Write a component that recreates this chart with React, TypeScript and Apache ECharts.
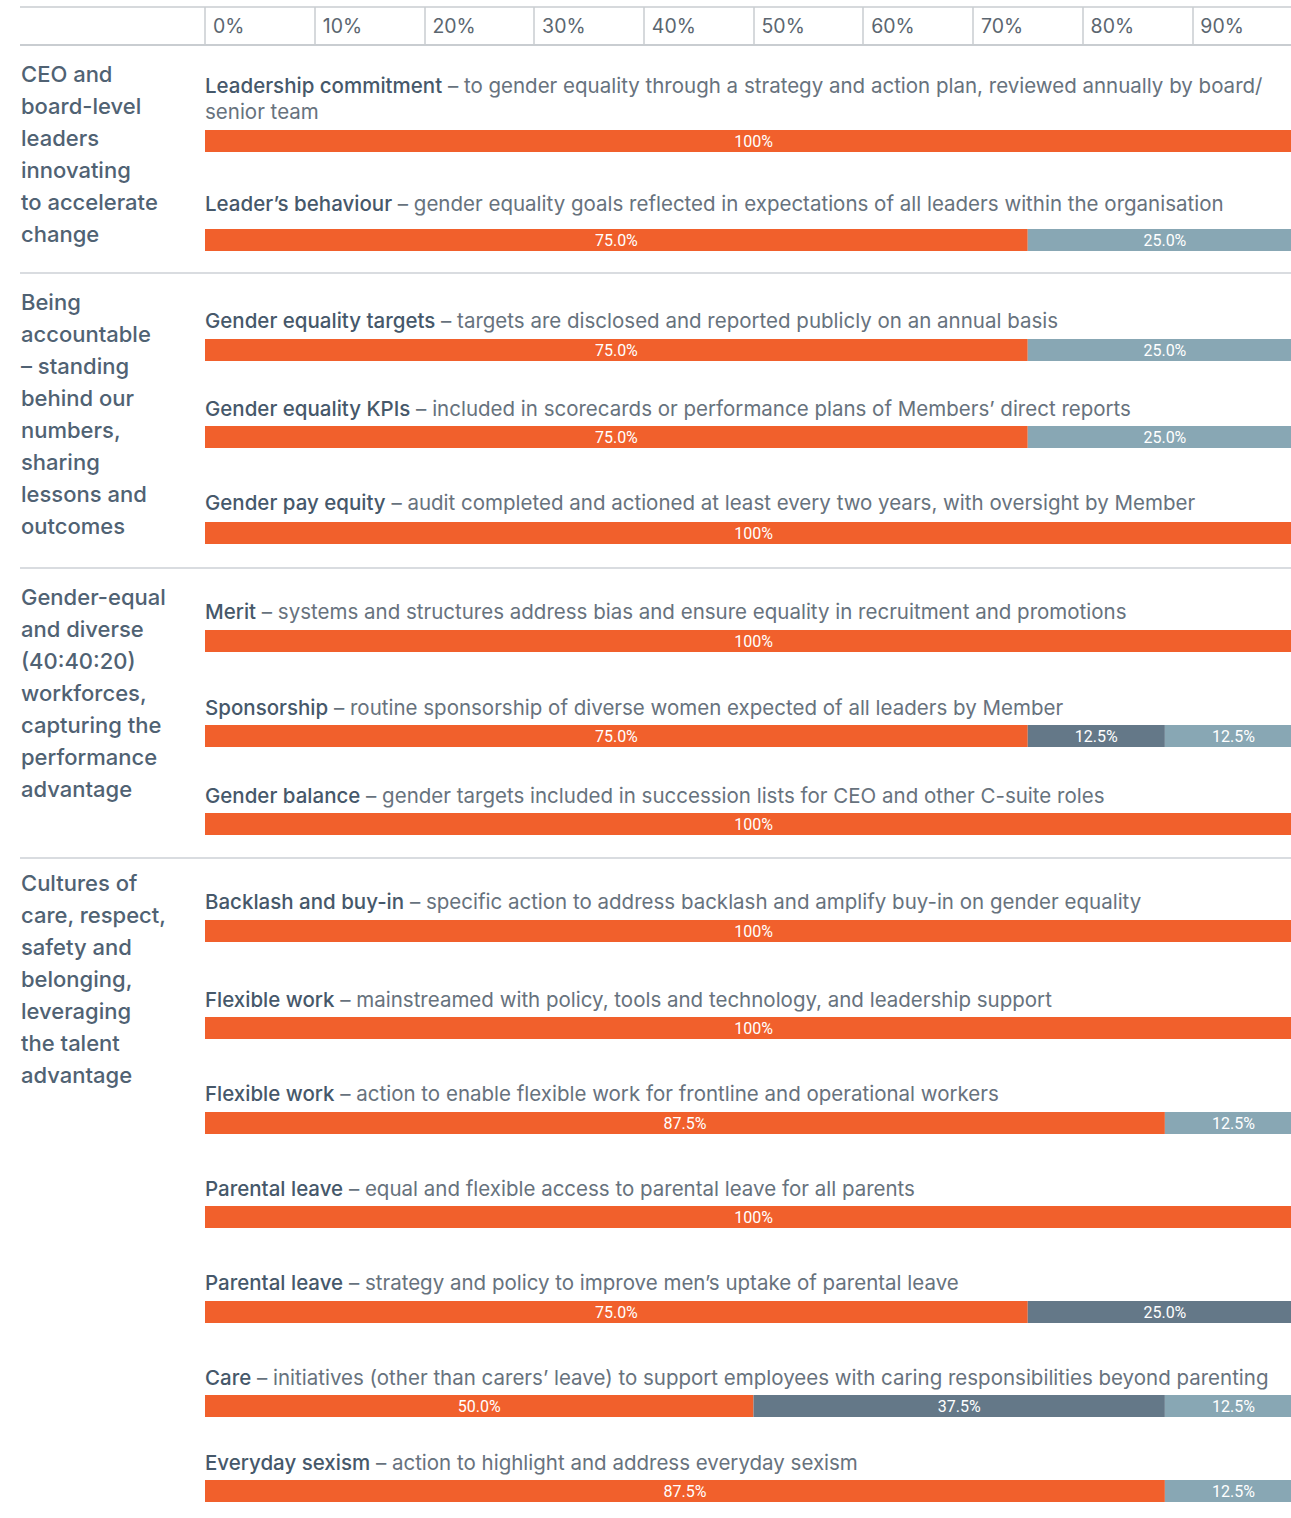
import React, { useEffect, useRef } from 'react';
import * as echarts from 'echarts';

// ---------- data ----------
const tickValues = [0, 10, 20, 30, 40, 50, 60, 70, 80, 90];

const groupLabels: string[][] = [
  ['CEO and', 'board-level', 'leaders', 'innovating', 'to accelerate', 'change'],
  ['Being', 'accountable', '– standing', 'behind our', 'numbers,', 'sharing', 'lessons and', 'outcomes'],
  ['Gender-equal', 'and diverse', '(40:40:20)', 'workforces,', 'capturing the', 'performance', 'advantage'],
  ['Cultures of', 'care, respect,', 'safety and', 'belonging,', 'leveraging', 'the talent', 'advantage'],
];

const rowTitles = [
  'Leadership commitment',
  'Leader’s behaviour',
  'Gender equality targets',
  'Gender equality KPIs',
  'Gender pay equity',
  'Merit',
  'Sponsorship',
  'Gender balance',
  'Backlash and buy-in',
  'Flexible work',
  'Flexible work',
  'Parental leave',
  'Parental leave',
  'Care',
  'Everyday sexism',
];

const rowDescriptions = [
  ' – to gender equality through a strategy and action plan, reviewed annually by board/\nsenior team',
  ' – gender equality goals reflected in expectations of all leaders within the organisation',
  ' – targets are disclosed and reported publicly on an annual basis',
  ' – included in scorecards or performance plans of Members’ direct reports',
  ' – audit completed and actioned at least every two years, with oversight by Member',
  ' – systems and structures address bias and ensure equality in recruitment and promotions',
  ' – routine sponsorship of diverse women expected of all leaders by Member',
  ' – gender targets included in succession lists for CEO and other C-suite roles',
  ' – specific action to address backlash and amplify buy-in on gender equality',
  ' – mainstreamed with policy, tools and technology, and leadership support',
  ' – action to enable flexible work for frontline and operational workers',
  ' – equal and flexible access to parental leave for all parents',
  ' – strategy and policy to improve men’s uptake of parental leave',
  ' – initiatives (other than carers’ leave) to support employees with caring responsibilities beyond parenting',
  ' – action to highlight and address everyday sexism',
];

const implementedPct = [100, 75, 75, 75, 100, 100, 75, 100, 100, 100, 87.5, 100, 75, 50, 87.5];
const inProgressPct = [0, 0, 0, 0, 0, 0, 12.5, 0, 0, 0, 0, 0, 25, 37.5, 0];
const notYetPct = [0, 25, 25, 25, 0, 0, 12.5, 0, 0, 0, 12.5, 0, 0, 12.5, 12.5];

// ---------- layout ----------
const W = 1291;
const CHART_W = 1302; // the 100% end lies just past the page edge
const H = 1518;
const PLOT_LEFT = 205;
const BAR_H = 22;
const barTops = [130, 229, 339, 426, 522, 630, 725, 813, 920, 1017, 1112, 1206, 1301, 1395, 1480];
const textYs = [98, 203, 320, 408, 502, 611, 707, 795, 901, 999, 1093, 1188, 1282, 1377, 1462];
const groupFirstLine = [74, 302, 597, 883];
const separatorYs = [273, 568, 858];

const ORANGE = '#F1602C';
const DARK = '#647888';
const LIGHT = '#88A7B4';
const HEADER_LINE = '#C9CDD1';
const SEP_LINE = '#B3BAC1';
const TITLE_COLOR = '#46586A';
const DESC_COLOR = '#67727D';
const GROUP_COLOR = '#506273';

function fmt(v: number) {
  if (!v) return '';
  return v === 100 ? '100%' : v.toFixed(1) + '%';
}

export default function App() {
  const ref = useRef<HTMLDivElement>(null);

  useEffect(() => {
    if (!ref.current) return;
    const chart = echarts.init(ref.current, undefined, { renderer: 'svg', width: CHART_W, height: H });

    const grids: any[] = [];
    const xAxes: any[] = [];
    const yAxes: any[] = [];
    const series: any[] = [];

    const segs = [
      { name: 'Implemented', data: implementedPct, color: ORANGE },
      { name: 'In progress', data: inProgressPct, color: DARK },
      { name: 'Not yet', data: notYetPct, color: LIGHT },
    ];

    rowTitles.forEach((t, i) => {
      grids.push({ left: PLOT_LEFT, right: 0, top: barTops[i], height: BAR_H, containLabel: false });
      xAxes.push({ type: 'value', gridIndex: i, min: 0, max: 100, show: false });
      yAxes.push({ type: 'category', gridIndex: i, data: [t], show: false });
      segs.forEach((s) => {
        series.push({
          type: 'bar',
          name: s.name,
          xAxisIndex: i,
          yAxisIndex: i,
          stack: 'row' + i,
          barWidth: BAR_H,
          data: [s.data[i]],
          itemStyle: { color: s.color },
          label: {
            show: true,
            position: 'inside',
            color: '#FFFFFF',
            fontFamily: 'Roboto',
            fontSize: 16,
            formatter: (p: any) => fmt(p.value),
          },
          silent: true,
        });
      });
    });

    // header grid
    const hi = rowTitles.length;
    grids.push({ left: PLOT_LEFT, right: 0, top: 7, height: 38 });
    xAxes.push({
      type: 'value',
      gridIndex: hi,
      min: 0,
      max: 100,
      interval: 10,
      position: 'top',
      axisLine: { show: false },
      axisTick: { show: false },
      splitLine: { show: true, lineStyle: { color: HEADER_LINE, width: 1.5 } },
      axisLabel: {
        inside: true,
        margin: 19,
        align: 'left',
        verticalAlign: 'middle',
        padding: [0, 0, 0, 8],
        color: '#5B6670',
        fontFamily: 'Inter',
        fontSize: 19.5,
        showMaxLabel: false,
        formatter: (v: number) => (tickValues.indexOf(v) >= 0 ? v + '%' : ''),
      },
    });
    yAxes.push({ type: 'category', gridIndex: hi, data: [''], show: false });

    const graphic: any[] = [];
    graphic.push({ type: 'line', shape: { x1: 20, y1: 7, x2: W, y2: 7 }, style: { stroke: HEADER_LINE, lineWidth: 1.5 } });
    graphic.push({ type: 'line', shape: { x1: 20, y1: 45, x2: W, y2: 45 }, style: { stroke: HEADER_LINE, lineWidth: 2 } });
    separatorYs.forEach((y) => {
      graphic.push({ type: 'line', shape: { x1: 20, y1: y, x2: W, y2: y }, style: { stroke: SEP_LINE, lineWidth: 1.2 } });
    });

    groupLabels.forEach((lines, gi) => {
      graphic.push({
        type: 'text',
        x: 21,
        y: groupFirstLine[gi] - 16,
        style: {
          text: lines.join('\n'),
          fill: GROUP_COLOR,
          fontFamily: 'Inter',
          fontWeight: 500,
          fontSize: 22,
          lineHeight: 32,
          verticalAlign: 'top',
          align: 'left',
        },
      });
    });

    rowTitles.forEach((t, i) => {
      graphic.push({
        type: 'text',
        x: PLOT_LEFT,
        y: textYs[i],
        style: {
          text: '{b|' + t + '}{r|' + rowDescriptions[i] + '}',
          verticalAlign: 'middle',
          align: 'left',
          fontFamily: 'Inter',
          fontSize: 20.5,
          lineHeight: 26,
          rich: {
            b: { fill: TITLE_COLOR, fontFamily: 'Inter', fontWeight: 500, fontSize: 20.5, lineHeight: 26 },
            r: { fill: DESC_COLOR, fontFamily: 'Inter', fontWeight: 400, fontSize: 20.5, lineHeight: 26 },
          },
        },
      });
    });

    chart.setOption({
      animation: false,
      backgroundColor: '#FFFFFF',
      grid: grids,
      xAxis: xAxes,
      yAxis: yAxes,
      series,
      graphic,
    });

    return () => chart.dispose();
  }, []);

  return (
    <div style={{ position: 'absolute', left: 0, top: 0, width: W, height: H, overflow: 'hidden' }}>
      <div ref={ref} style={{ width: CHART_W, height: H }} />
    </div>
  );
}
